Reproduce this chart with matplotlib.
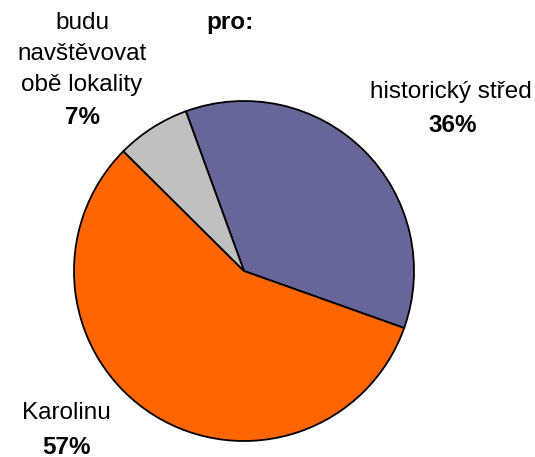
import matplotlib
matplotlib.use("Agg")
import matplotlib.pyplot as plt

categories = ["historický střed", "Karolinu", "budu\nnavštěvovat\nobě lokality"]
values = [36, 57, 7]
colors = ["#666699", "#FF6600", "#C0C0C0"]
pct_labels = ["36%", "57%", "7%"]

W, H = 535, 457
fig = plt.figure(figsize=(W / 100, H / 100), dpi=100)
ax = fig.add_axes([0, 0, 1, 1])

ax.pie(values, colors=colors, startangle=110, counterclock=False,
       center=(244, H - 271), radius=170,
       wedgeprops=dict(edgecolor="black", linewidth=1.3))
ax.set_xlim(0, W)
ax.set_ylim(0, H)
ax.set_aspect("equal")
ax.axis("off")

font = "Liberation Sans"
fs = 17.5
# label positions (pixel coords from top)
label_pos = [(451, 92), (66, 413), (82, 54)]
pct_pos = [(453, 126), (67, 447), (82, 117)]
for cat, pct, (lx, ly), (px, py) in zip(categories, pct_labels, label_pos, pct_pos):
    ax.text(lx, H - ly, cat, ha="center", va="center", fontsize=fs,
            family=font, linespacing=1.55)
    ax.text(px, H - py, pct, ha="center", va="center", fontsize=fs,
            family=font, fontweight="bold")

ax.text(230, H - 22, "pro:", ha="center", va="center", fontsize=fs,
        family=font, fontweight="bold")

fig.savefig("out.png", dpi=100)
